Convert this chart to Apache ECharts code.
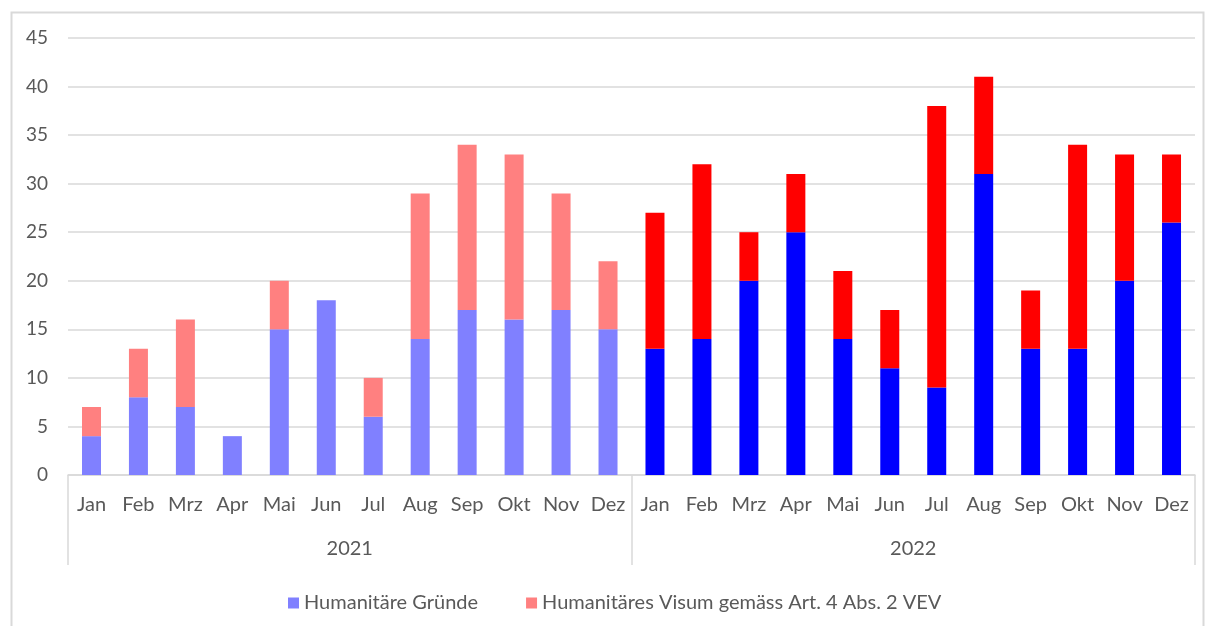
<!DOCTYPE html>
<html>
<head>
<meta charset="utf-8">
<script src="https://cdn.jsdelivr.net/npm/echarts@6/dist/echarts.min.js"></script>
<style>
  html, body { margin: 0; padding: 0; background: #fff; }
  #chart { width: 1205px; height: 626px; }
</style>
</head>
<body>
<div id="chart"></div>
<script>
const months = ["Jan", "Feb", "Mrz", "Apr", "Mai", "Jun", "Jul", "Aug", "Sep", "Okt", "Nov", "Dez"];
const years = ["2021", "2022"];
const seriesNames = ["Humanitäre Gründe", "Humanitäres Visum gemäss Art. 4 Abs. 2 VEV"];

const gruende2021 = [4, 8, 7, 4, 15, 18, 6, 14, 17, 16, 17, 15];
const visum2021 = [3, 5, 9, 0, 5, 0, 4, 15, 17, 17, 12, 7];
const gruende2022 = [13, 14, 20, 25, 14, 11, 9, 31, 13, 13, 20, 26];
const visum2022 = [14, 18, 5, 6, 7, 6, 29, 10, 6, 21, 13, 7];

const yTicks = [0, 5, 10, 15, 20, 25, 30, 35, 40, 45];

const lightBlue = "#8080ff";
const lightRed = "#ff8080";
const darkBlue = "#0000ff";
const darkRed = "#ff0000";

const font = "Lato, 'Open Sans', sans-serif";
const textColor = "#595959";
const lineColor = "#d9d9d9";

// 2022 bars get the saturated colours, 2021 keep the series colour
function withColor(values, color) {
  return values.map((v) => ({ value: v, itemStyle: { color } }));
}

const chart = echarts.init(document.getElementById("chart"), null, { renderer: "canvas" });

const option = {
  animation: false,
  textStyle: { fontFamily: font },
  graphic: [
    {
      type: "rect",
      shape: { x: 11.5, y: 12.5, width: 1192, height: 640 },
      style: { fill: "none", stroke: lineColor, lineWidth: 2 },
      silent: true,
    },
  ],
  grid: { left: 68, right: 10, top: 38, bottom: 151 },
  legend: {
    left: 283,
    top: 588,
    itemWidth: 11,
    itemHeight: 11,
    itemGap: 48,
    icon: "rect",
    textStyle: { fontFamily: font, fontSize: 20, color: textColor },
    data: seriesNames,
  },
  xAxis: [
    {
      type: "category",
      data: months.concat(months),
      position: "bottom",
      axisLine: { lineStyle: { color: lineColor, width: 1.5 } },
      axisTick: { show: false },
      axisLabel: {
        interval: 0,
        margin: 20,
        fontFamily: font,
        fontSize: 20,
        color: textColor,
      },
    },
    {
      type: "category",
      data: years,
      position: "bottom",
      axisLine: { show: false },
      axisTick: {
        show: true,
        length: 90,
        inside: false,
        lineStyle: { color: lineColor, width: 1.5 },
      },
      axisLabel: {
        margin: 64,
        fontFamily: font,
        fontSize: 20,
        color: textColor,
      },
    },
  ],
  yAxis: {
    type: "value",
    min: yTicks[0],
    max: yTicks[yTicks.length - 1],
    interval: 5,
    axisLine: { show: false },
    axisTick: { show: false },
    splitLine: { lineStyle: { color: lineColor, width: 1.5 } },
    axisLabel: {
      margin: 20,
      fontFamily: font,
      fontSize: 19,
      color: textColor,
    },
  },
  series: [
    {
      name: seriesNames[0],
      type: "bar",
      stack: "total",
      barWidth: 19,
      itemStyle: { color: lightBlue },
      data: gruende2021.concat(withColor(gruende2022, darkBlue)),
    },
    {
      name: seriesNames[1],
      type: "bar",
      stack: "total",
      barWidth: 19,
      itemStyle: { color: lightRed },
      data: visum2021.concat(withColor(visum2022, darkRed)),
    },
  ],
};

chart.setOption(option);
window.addEventListener("resize", chart.resize);
</script>
</body>
</html>
